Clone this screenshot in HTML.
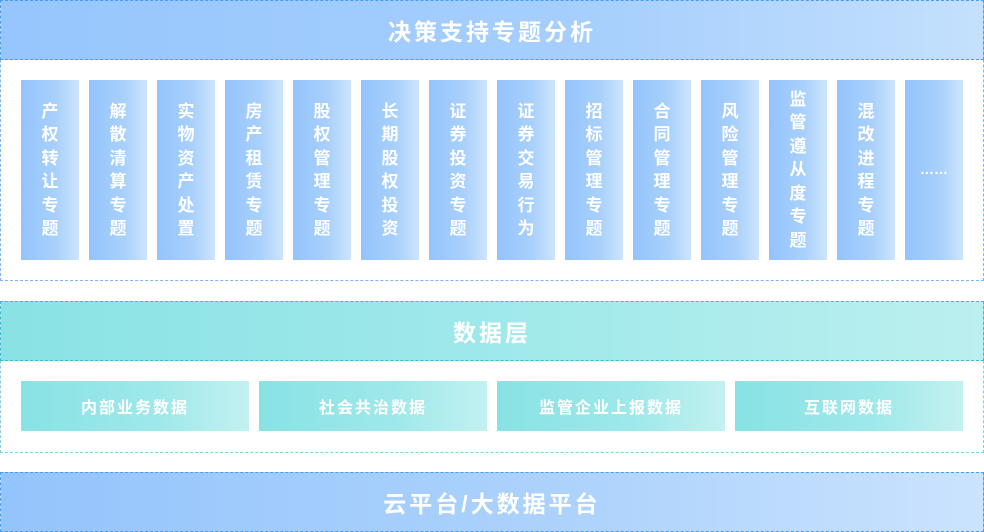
<!DOCTYPE html>
<html><head><meta charset="utf-8"><style>
*{margin:0;padding:0;box-sizing:border-box}
body{width:984px;height:532px;background:#fff;position:relative;overflow:hidden;font-family:"Liberation Sans","Noto Sans CJK SC",sans-serif;color:#fff;font-weight:bold}
.a{position:absolute}
.hd{display:flex;align-items:center;justify-content:center;font-size:23px;letter-spacing:3px}
.col{position:absolute;top:80px;width:58px;height:180px;background:linear-gradient(90deg,#94c4fc,#a8d0fc 60%,#cde5fe);font-size:17px;line-height:23.5px;text-align:center;display:flex;flex-direction:column;align-items:center;justify-content:center}
.col span{display:block}
.db{position:absolute;top:381px;width:228px;height:50px;background:linear-gradient(90deg,#88e2e4,#9fe8ea 60%,#c3f1f1);display:flex;align-items:center;justify-content:center;font-size:16px;letter-spacing:2px}
</style></head><body>
<div class="a" style="left:0;top:0;width:984px;height:281px;border:1px dashed #7ab6f4"></div>
<div class="a hd" style="left:0;top:0;width:984px;height:60px;background:linear-gradient(90deg,#96c6fd,#a6cffd 60%,#c4e0fd);border:1px dashed #4a9cf0">决策支持专题分析</div>
<div class="col" style="left:21px"><span>产<br>权<br>转<br>让<br>专<br>题</span></div>
<div class="col" style="left:89px"><span>解<br>散<br>清<br>算<br>专<br>题</span></div>
<div class="col" style="left:157px"><span>实<br>物<br>资<br>产<br>处<br>置</span></div>
<div class="col" style="left:225px"><span>房<br>产<br>租<br>赁<br>专<br>题</span></div>
<div class="col" style="left:293px"><span>股<br>权<br>管<br>理<br>专<br>题</span></div>
<div class="col" style="left:361px"><span>长<br>期<br>股<br>权<br>投<br>资</span></div>
<div class="col" style="left:429px"><span>证<br>券<br>投<br>资<br>专<br>题</span></div>
<div class="col" style="left:497px"><span>证<br>券<br>交<br>易<br>行<br>为</span></div>
<div class="col" style="left:565px"><span>招<br>标<br>管<br>理<br>专<br>题</span></div>
<div class="col" style="left:633px"><span>合<br>同<br>管<br>理<br>专<br>题</span></div>
<div class="col" style="left:701px"><span>风<br>险<br>管<br>理<br>专<br>题</span></div>
<div class="col" style="left:769px"><span>监<br>管<br>遵<br>从<br>度<br>专<br>题</span></div>
<div class="col" style="left:837px"><span>混<br>改<br>进<br>程<br>专<br>题</span></div>
<div class="col" style="left:905px"><span style="font-size:14px">……</span></div>

<div class="a" style="left:0;top:301px;width:984px;height:152px;border:1px dashed #88cce0"></div>
<div class="a hd" style="left:0;top:301px;width:984px;height:60px;background:linear-gradient(90deg,#8ae2e4,#a4eaeb 60%,#bcefef);border:1px dashed #3fb8d0">数据层</div>
<div class="db" style="left:21px">内部业务数据</div>
<div class="db" style="left:259px">社会共治数据</div>
<div class="db" style="left:497px">监管企业上报数据</div>
<div class="db" style="left:735px">互联网数据</div>

<div class="a hd" style="left:0;top:472px;width:984px;height:60px;background:linear-gradient(90deg,#94c4fc,#aed3fc 60%,#cbe3fe);border:1px dashed #4a9cf0">云平台/大数据平台</div>
</body></html>
